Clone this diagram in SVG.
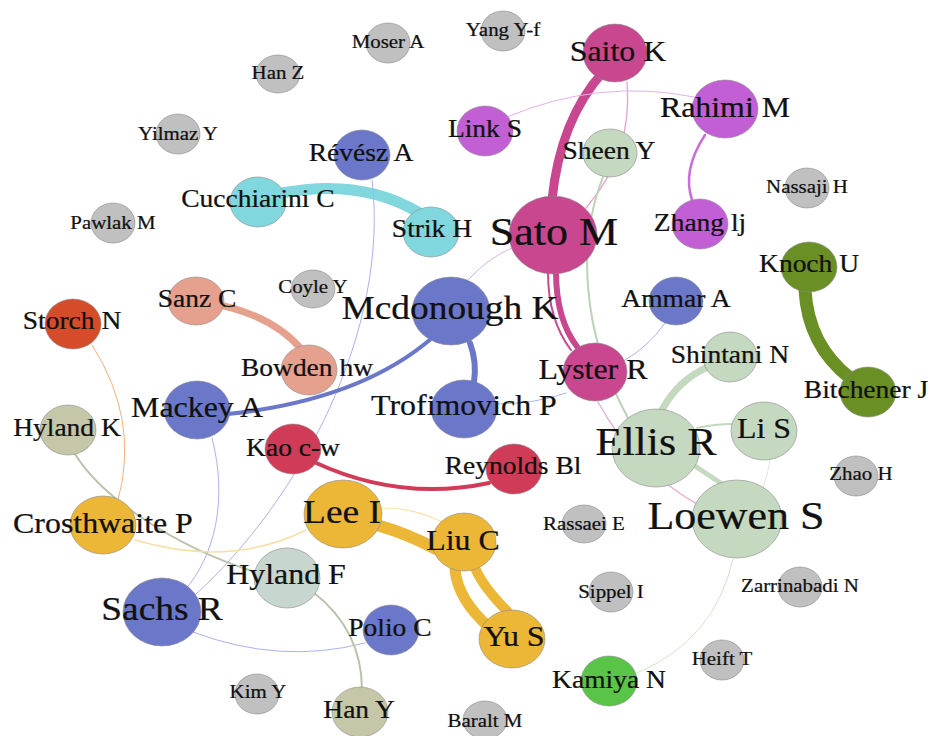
<svg xmlns="http://www.w3.org/2000/svg" width="930" height="736" viewBox="0 0 930 736">
<style>
.n{stroke:#8a8a8a;stroke-width:0.6}
.e{fill:none;stroke-linecap:round}
text{font-family:"Liberation Serif","Times New Roman",serif;fill:#111;text-anchor:middle;stroke:#111;stroke-width:0.25}
.g{font-size:19px}.m{font-size:25px}.l{font-size:29px}.x{font-size:34px}.h{font-size:40px}
.gr{fill:#c0c0c0}.mg{fill:#c8478f}.pu{fill:#c35fd5}.lg{fill:#c5d8c0}.bl{fill:#6b77c8}.cy{fill:#80d8de}.sa{fill:#e6a08e}.or{fill:#d44c2a}.rd{fill:#d03b58}.ye{fill:#ecb637}.ol{fill:#c6c7a8}.hf{fill:#c7d6cf}.dg{fill:#6a8f24}.km{fill:#5ac448}
</style>
<rect width="930" height="736" fill="#fff"/>
<g id="edges">
<path class="e" d="M 603,72 Q 560,120 552,200" stroke="#c8478f" stroke-width="9"/>
<path class="e" d="M 556,272 Q 556,320 578,348" stroke="#c8478f" stroke-width="6"/>
<path class="e" d="M 548,272 Q 548,320 571,350" stroke="#c8478f" stroke-width="2"/>
<path class="e" d="M 627,82 C 632,140 610,180 586,208" stroke="#e8a4cc" stroke-width="1.3"/>
<path class="e" d="M 603,177 C 578,240 580,330 628,418" stroke="#bcd2b6" stroke-width="2"/>
<path class="e" d="M 507,117 Q 600,78 694,97" stroke="#e4b0ee" stroke-width="1"/>
<path class="e" d="M 705,135 Q 682,170 692,200" stroke="#c96ddb" stroke-width="2.5"/>
<path class="e" d="M 282,193 Q 360,178 418,212" stroke="#80d8de" stroke-width="11"/>
<path class="e" d="M 372,180 C 390,330 300,500 195,595" stroke="#aab2ee" stroke-width="1"/>
<path class="e" d="M 212,438 C 228,500 215,555 185,590" stroke="#aab2ee" stroke-width="1"/>
<path class="e" d="M 468,280 Q 488,258 512,248" stroke="#d8b4e4" stroke-width="1"/>
<path class="e" d="M 432,338 Q 360,400 228,414" stroke="#6b77c8" stroke-width="4"/>
<path class="e" d="M 470,343 Q 477,362 474,382" stroke="#6b77c8" stroke-width="6"/>
<path class="e" d="M 496,404 Q 535,404 566,393" stroke="#aab2ee" stroke-width="1"/>
<path class="e" d="M 625,360 Q 648,347 665,323" stroke="#aab2ee" stroke-width="1"/>
<path class="e" d="M 598,402 Q 635,470 702,507" stroke="#e8a4cc" stroke-width="1.2"/>
<path class="e" d="M 662,410 Q 678,380 708,367" stroke="#c5d8c0" stroke-width="7"/>
<path class="e" d="M 697,428 Q 715,424 733,424" stroke="#c5d8c0" stroke-width="2"/>
<path class="e" d="M 695,466 L 722,484" stroke="#c5d8c0" stroke-width="5"/>
<path class="e" d="M 770,460 Q 768,475 763,488" stroke="#dde9da" stroke-width="1"/>
<path class="e" d="M 733,559 Q 715,640 637,673" stroke="#cfe6c8" stroke-width="1"/>
<path class="e" d="M 805,290 Q 808,345 850,378" stroke="#6a8f24" stroke-width="13"/>
<path class="e" d="M 224,306 Q 275,318 302,350" stroke="#e6a08e" stroke-width="7"/>
<path class="e" d="M 92,345 Q 140,420 118,500" stroke="#f4b07a" stroke-width="1"/>
<path class="e" d="M 75,454 C 100,495 170,545 255,572" stroke="#b9c3aa" stroke-width="2"/>
<path class="e" d="M 135,540 Q 230,568 306,530" stroke="#f6dfa6" stroke-width="1.5"/>
<path class="e" d="M 380,526 Q 408,534 436,549" stroke="#ecb637" stroke-width="12"/>
<path class="e" d="M 382,508 Q 415,508 442,522" stroke="#f6dfa6" stroke-width="1.2"/>
<path class="e" d="M 455,570 Q 458,600 490,628" stroke="#ecb637" stroke-width="11"/>
<path class="e" d="M 476,570 Q 484,588 508,612" stroke="#ecb637" stroke-width="10"/>
<path class="e" d="M 314,462 Q 400,502 489,483" stroke="#d03b58" stroke-width="4"/>
<path class="e" d="M 193,632 Q 280,665 365,643" stroke="#aab2ee" stroke-width="1"/>
<path class="e" d="M 313,592 Q 362,630 362,690" stroke="#b9c3aa" stroke-width="2"/>
</g>
<g id="moser"><ellipse class="n gr" cx="388" cy="43" rx="22" ry="20"/><text class="g" x="352.7" y="48" transform="scale(1.1,1)">Moser A</text></g>
<g id="yang"><ellipse class="n gr" cx="503" cy="31" rx="22" ry="20"/><text class="g" x="457.3" y="36" transform="scale(1.1,1)">Yang Y-f</text></g>
<g id="hanz"><ellipse class="n gr" cx="278" cy="74" rx="22" ry="19"/><text class="g" x="252.7" y="79" transform="scale(1.1,1)">Han Z</text></g>
<g id="yilmaz"><ellipse class="n gr" cx="178" cy="134" rx="22" ry="20"/><text class="g" x="161.8" y="140" transform="scale(1.1,1)">Yilmaz Y</text></g>
<g id="pawlak"><ellipse class="n gr" cx="113" cy="223" rx="22" ry="20"/><text class="g" x="102.7" y="229" transform="scale(1.1,1)">Pawlak M</text></g>
<g id="nassaji"><ellipse class="n gr" cx="807" cy="188" rx="22" ry="20"/><text class="g" x="733.6" y="193" transform="scale(1.1,1)">Nassaji H</text></g>
<g id="coyle"><ellipse class="n gr" cx="313" cy="289" rx="22" ry="19"/><text class="g" x="284.5" y="293" transform="scale(1.1,1)">Coyle Y</text></g>
<g id="zhao"><ellipse class="n gr" cx="856" cy="476" rx="22" ry="20"/><text class="g" x="782.7" y="480" transform="scale(1.1,1)">Zhao H</text></g>
<g id="rassaei"><ellipse class="n gr" cx="584" cy="524" rx="22" ry="19"/><text class="g" x="530.9" y="530" transform="scale(1.1,1)">Rassaei E</text></g>
<g id="sippel"><ellipse class="n gr" cx="611" cy="592" rx="22" ry="20"/><text class="g" x="555.5" y="598" transform="scale(1.1,1)">Sippel I</text></g>
<g id="zarrinabadi"><ellipse class="n gr" cx="800" cy="587" rx="22" ry="20"/><text class="g" x="727.3" y="592" transform="scale(1.1,1)">Zarrinabadi N</text></g>
<g id="heift"><ellipse class="n gr" cx="722" cy="660" rx="22" ry="20"/><text class="g" x="656.4" y="665" transform="scale(1.1,1)">Heift T</text></g>
<g id="kim"><ellipse class="n gr" cx="257" cy="694" rx="22" ry="20"/><text class="g" x="234.5" y="698" transform="scale(1.1,1)">Kim Y</text></g>
<g id="baralt"><ellipse class="n gr" cx="485" cy="720" rx="22" ry="19"/><text class="g" x="440.9" y="727" transform="scale(1.1,1)">Baralt M</text></g>
<g id="saito"><ellipse class="n mg" cx="615" cy="53" rx="32" ry="29"/><text class="l" x="561.8" y="61" transform="scale(1.1,1)">Saito K</text></g>
<g id="rahimi"><ellipse class="n pu" cx="725" cy="109" rx="33" ry="29"/><text class="l" x="659.1" y="117" transform="scale(1.1,1)">Rahimi M</text></g>
<g id="link"><ellipse class="n pu" cx="485" cy="131" rx="28" ry="25"/><text class="m" x="440.9" y="137" transform="scale(1.1,1)">Link S</text></g>
<g id="sheen"><ellipse class="n lg" cx="610" cy="153" rx="27" ry="24"/><text class="m" x="553.6" y="159" transform="scale(1.1,1)">Sheen Y</text></g>
<g id="revesz"><ellipse class="n bl" cx="362" cy="155" rx="28" ry="25"/><text class="m" x="328.2" y="161" transform="scale(1.1,1)">Révész A</text></g>
<g id="cucchiarini"><ellipse class="n cy" cx="258" cy="202" rx="28" ry="25"/><text class="m" x="234.5" y="207" transform="scale(1.1,1)">Cucchiarini C</text></g>
<g id="strik"><ellipse class="n cy" cx="431" cy="232" rx="28" ry="25"/><text class="m" x="392.7" y="237" transform="scale(1.1,1)">Strik H</text></g>
<g id="sato"><ellipse class="n mg" cx="553" cy="235" rx="44" ry="39"/><text class="h" x="503.6" y="245" transform="scale(1.1,1)">Sato M</text></g>
<g id="zhang"><ellipse class="n pu" cx="700" cy="224" rx="28" ry="25"/><text class="m" x="636.4" y="231" transform="scale(1.1,1)">Zhang lj</text></g>
<g id="knoch"><ellipse class="n dg" cx="809" cy="267" rx="28" ry="25"/><text class="m" x="735.5" y="272" transform="scale(1.1,1)">Knoch U</text></g>
<g id="bitchener"><ellipse class="n dg" cx="868" cy="392" rx="28" ry="25"/><text class="m" x="787.3" y="398" transform="scale(1.1,1)">Bitchener J</text></g>
<g id="ammar"><ellipse class="n bl" cx="676" cy="301" rx="27" ry="24"/><text class="m" x="614.5" y="307" transform="scale(1.1,1)">Ammar A</text></g>
<g id="shintani"><ellipse class="n lg" cx="730" cy="357" rx="27" ry="25"/><text class="m" x="663.6" y="363" transform="scale(1.1,1)">Shintani N</text></g>
<g id="lis"><ellipse class="n lg" cx="764" cy="431" rx="33" ry="29"/><text class="l" x="694.5" y="438" transform="scale(1.1,1)">Li S</text></g>
<g id="lyster"><ellipse class="n mg" cx="595" cy="372" rx="32" ry="29"/><text class="l" x="539.1" y="379" transform="scale(1.1,1)">Lyster R</text></g>
<g id="ellis"><ellipse class="n lg" cx="656" cy="448" rx="44" ry="39"/><text class="h" x="596.4" y="455" transform="scale(1.1,1)">Ellis R</text></g>
<g id="loewen"><ellipse class="n lg" cx="737" cy="519" rx="45" ry="39"/><text class="h" x="669.1" y="529" transform="scale(1.1,1)">Loewen S</text></g>
<g id="mcdonough"><ellipse class="n bl" cx="451" cy="311" rx="39" ry="34"/><text class="x" x="409.1" y="319" transform="scale(1.1,1)">Mcdonough K</text></g>
<g id="trofimovich"><ellipse class="n bl" cx="464" cy="409" rx="33" ry="29"/><text class="l" x="421.8" y="415" transform="scale(1.1,1)">Trofimovich P</text></g>
<g id="reynolds"><ellipse class="n rd" cx="514" cy="469" rx="28" ry="25"/><text class="m" x="466.4" y="474" transform="scale(1.1,1)">Reynolds Bl</text></g>
<g id="sanz"><ellipse class="n sa" cx="196" cy="301" rx="28" ry="24"/><text class="m" x="179.1" y="307" transform="scale(1.1,1)">Sanz C</text></g>
<g id="storch"><ellipse class="n or" cx="73" cy="324" rx="28" ry="25"/><text class="m" x="65.5" y="329" transform="scale(1.1,1)">Storch N</text></g>
<g id="bowden"><ellipse class="n sa" cx="309" cy="370" rx="28" ry="25"/><text class="m" x="279.1" y="376" transform="scale(1.1,1)">Bowden hw</text></g>
<g id="mackey"><ellipse class="n bl" cx="197" cy="410" rx="33" ry="29"/><text class="l" x="179.1" y="417" transform="scale(1.1,1)">Mackey A</text></g>
<g id="hylandk"><ellipse class="n ol" cx="68" cy="430" rx="28" ry="25"/><text class="m" x="60.9" y="436" transform="scale(1.1,1)">Hyland K</text></g>
<g id="kao"><ellipse class="n rd" cx="293" cy="449" rx="28" ry="25"/><text class="m" x="266.4" y="456" transform="scale(1.1,1)">Kao c-w</text></g>
<g id="lee"><ellipse class="n ye" cx="343" cy="514" rx="39" ry="34"/><text class="x" x="310.9" y="523" transform="scale(1.1,1)">Lee I</text></g>
<g id="liu"><ellipse class="n ye" cx="464" cy="542" rx="32" ry="29"/><text class="l" x="420.9" y="550" transform="scale(1.1,1)">Liu C</text></g>
<g id="yu"><ellipse class="n ye" cx="512" cy="639" rx="33" ry="29"/><text class="l" x="467.3" y="646" transform="scale(1.1,1)">Yu S</text></g>
<g id="crosthwaite"><ellipse class="n ye" cx="103" cy="525" rx="33" ry="29"/><text class="l" x="93.6" y="533" transform="scale(1.1,1)">Crosthwaite P</text></g>
<g id="hylandf"><ellipse class="n hf" cx="287" cy="578" rx="33" ry="30"/><text class="l" x="260" y="584" transform="scale(1.1,1)">Hyland F</text></g>
<g id="sachs"><ellipse class="n bl" cx="162" cy="612" rx="39" ry="34"/><text class="x" x="147.3" y="620" transform="scale(1.1,1)">Sachs R</text></g>
<g id="polio"><ellipse class="n bl" cx="391" cy="630" rx="28" ry="25"/><text class="m" x="354.5" y="636" transform="scale(1.1,1)">Polio C</text></g>
<g id="hany"><ellipse class="n ol" cx="360" cy="712" rx="28" ry="25"/><text class="m" x="326.4" y="718" transform="scale(1.1,1)">Han Y</text></g>
<g id="kamiya"><ellipse class="n km" cx="609" cy="681" rx="28" ry="25"/><text class="m" x="553.6" y="688" transform="scale(1.1,1)">Kamiya N</text></g>
</svg>
